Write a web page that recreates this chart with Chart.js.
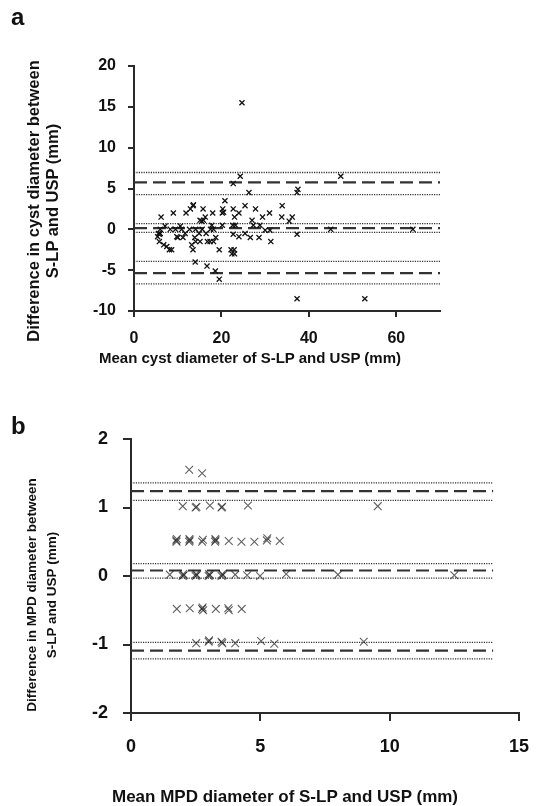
<!DOCTYPE html>
<html>
<head>
<meta charset="utf-8">
<script src="https://cdn.jsdelivr.net/npm/chart.js@4.4.0/dist/chart.umd.min.js"></script>
<style>
  body { margin: 0; background: #fff; font-family: "Liberation Sans", Arial, sans-serif; }
  #wrap { position: relative; width: 544px; height: 806px; }
  .panel { position: absolute; left: 0; width: 544px; }
  .lbl { position: absolute; font-weight: bold; color: #111; white-space: nowrap; }
  .rot { transform: translate(-50%, -50%) rotate(-90deg); text-align: center; }
  .ctr { transform: translate(-50%, -50%); }
</style>
</head>
<body>
<div id="wrap">
  <div class="panel" style="top:0;height:400px"><canvas id="chartA"></canvas></div>
  <div class="panel" style="top:400px;height:406px"><canvas id="chartB"></canvas></div>

  <div class="lbl" style="left:11px;top:3px;font-size:24px">a</div>
  <div class="lbl rot" style="left:43px;top:201px;font-size:16.5px;line-height:19px">Difference in cyst diameter between<br>S-LP and USP (mm)</div>
  <div class="lbl ctr" style="left:250px;top:357px;font-size:15px">Mean cyst diameter of S-LP and USP (mm)</div>

  <div class="lbl" style="left:11px;top:412px;font-size:24px">b</div>
  <div class="lbl rot" style="left:42px;top:595px;font-size:13.5px;line-height:20px">Difference in MPD diameter between<br>S-LP and USP (mm)</div>
  <div class="lbl ctr" style="left:285px;top:797px;font-size:17px">Mean MPD diameter of S-LP and USP (mm)</div>
</div>
<script>
// panel a: cyst diameter
const cystMean = [5.4, 5.6, 5.8, 6.0, 6.2, 6.8, 7.1, 8.1, 8.3, 8.6, 9.0, 9.5, 10.0, 10.6, 10.9, 11.2, 11.7, 11.9,
  12.7, 12.9, 13.2, 13.5, 13.5, 13.9, 14.0, 14.1, 14.1, 14.9, 15.1, 15.1, 15.6, 15.8, 15.9, 16.3, 16.5, 16.7,
  16.8, 17.5, 17.8, 18.0, 18.2, 18.2, 18.6, 18.7, 19.5, 19.5, 20.2, 20.2, 20.3, 20.8, 22.2, 22.4, 22.6, 22.7,
  22.7, 22.7, 22.9, 23.0, 23.0, 23.2, 24.0, 24.0, 24.3, 24.7, 25.4, 25.4, 26.3, 26.6, 27.0, 27.3, 27.8, 28.6,
  28.8, 29.4, 30.0, 31.0, 31.1, 31.3, 33.9, 33.8, 35.5, 36.2, 37.3, 37.5, 37.3, 37.3, 45.0, 47.3, 52.8, 63.8,
  5.8, 9.8, 15.5, 17.4, 13.6, 20.5, 7.5, 6.0];
const cystDiff = [-0.9, -0.5, -1.5, -0.5, 1.5, -1.9, 0.4, -2.5, 0, -2.5, 2.0, 0, -1.0, 0.4, 0, -1.0, -0.5, 2.0,
  0, 2.5, -1.9, 2.9, -2.5, -1.0, -4.0, -1.5, 0, -0.5, 1.1, -1.5, 0, 2.5, 1.1, 1.5, -0.5, -4.5,
  -1.5, 0, 0.5, 2.0, 0, -1.5, -5.1, -1.0, -2.5, -6.1, 2.0, 0.5, 2.5, 3.5, -2.5, -3.0, 0.5, 5.6,
  2.5, -0.6, -2.5, 1.5, -3.0, 0.5, 2.0, -0.9, 6.5, 15.5, 2.9, -0.5, 4.5, -1.0, 1.1, 0.5, 2.5, -1.0,
  0.5, 1.5, -0.1, 2.0, -0.1, -1.5, 2.9, 1.5, 1.0, 1.5, -0.6, 4.9, 4.5, -8.5, 0, 6.5, -8.5, 0,
  -0.6, -0.9, 1.0, -1.5, 3.0, 2.1, -2.1, 0];
const cystDashed = [5.74, 0.16, -5.37];
const cystDotted = [6.96, 4.26, 0.7, -0.37, -3.93, -6.67];
const cystXTicks = [0, 20, 40, 60];
const cystYTicks = [-10, -5, 0, 5, 10, 15, 20];

// panel b: MPD diameter
const mpdMean = [2.25, 2.75,
  2.0, 2.5, 2.53, 3.05, 3.5, 3.52, 4.52, 9.54,
  1.75, 1.76, 1.77, 2.25, 2.27, 2.26, 2.75, 2.78, 3.25, 3.27, 3.26, 3.78, 4.27, 4.77, 5.25, 5.27, 5.75,
  1.5, 2.0, 2.02, 2.04, 2.5, 2.52, 2.54, 3.0, 3.02, 3.04, 3.5, 3.53, 3.55, 4.03, 4.49, 4.99, 6.0, 8.0, 12.5,
  1.77, 2.27, 2.75, 2.77, 2.79, 3.28, 3.76, 3.78, 4.28,
  2.52, 3.0, 3.02, 3.5, 3.53, 4.03, 5.03, 5.54, 9.0];
const mpdDiff = [1.55, 1.5,
  1.02, 1.0, 1.01, 1.03, 1.0, 1.01, 1.03, 1.02,
  0.52, 0.5, 0.54, 0.5, 0.52, 0.54, 0.5, 0.53, 0.5, 0.52, 0.54, 0.51, 0.5, 0.5, 0.52, 0.55, 0.51,
  0.02, 0.0, 0.03, 0.01, 0.0, 0.03, 0.01, 0.0, 0.03, 0.01, 0.0, 0.03, 0.01, 0.02, 0.01, 0.0, 0.03, 0.02, 0.01,
  -0.48, -0.47, -0.48, -0.46, -0.5, -0.48, -0.47, -0.5, -0.48,
  -0.98, -0.96, -0.94, -0.96, -0.98, -0.98, -0.95, -0.99, -0.96];
const mpdDashed = [1.24, 0.08, -1.09];
const mpdDotted = [1.36, 1.105, 0.18, -0.03, -0.97, -1.21];
const mpdXTicks = [0, 5, 10, 15];
const mpdYTicks = [-2, -1, 0, 1, 2];

const family = '"Liberation Sans", Arial, sans-serif';
const axisColor = '#2a2a2a';

function hLines(values, xEnd, dash, width) {
  return values.map(v => ({
    type: 'line',
    data: [{ x: 0, y: v }, { x: xEnd, y: v }],
    borderColor: '#333',
    borderWidth: width,
    borderDash: dash,
    pointRadius: 0,
    fill: false
  }));
}

function makeChart(id, cfg) {
  const points = cfg.xs.map((x, i) => ({ x: x, y: cfg.ys[i] }));
  new Chart(document.getElementById(id), {
    type: 'scatter',
    data: {
      datasets: [
        {
          data: points,
          pointStyle: 'crossRot',
          pointRadius: cfg.markSize,
          borderColor: cfg.markColor,
          borderWidth: cfg.markWidth,
          backgroundColor: cfg.markColor
        }
      ].concat(hLines(cfg.dashed, cfg.lineEnd, [13, 6], 2.2))
       .concat(hLines(cfg.dotted, cfg.lineEnd, [1.2, 1.2], 1.3))
    },
    options: {
      responsive: true,
      maintainAspectRatio: false,
      animation: false,
      layout: { padding: cfg.padding },
      plugins: { legend: { display: false }, tooltip: { enabled: false } },
      scales: {
        x: {
          type: 'linear', min: cfg.xMin, max: cfg.xMax,
          afterBuildTicks: s => { s.ticks = cfg.xTicks.map(v => ({ value: v })); },
          afterFit: s => { s.height = cfg.xHeight; },
          grid: { drawOnChartArea: false, tickLength: cfg.tickLen, color: axisColor, lineWidth: 2 },
          border: { color: axisColor, width: 2 },
          ticks: { color: '#111', padding: cfg.xPad, maxRotation: 0, font: { size: cfg.tickSize, weight: 'bold', family: family } }
        },
        y: {
          type: 'linear', min: cfg.yMin, max: cfg.yMax,
          afterBuildTicks: s => { s.ticks = cfg.yTicks.map(v => ({ value: v })); },
          afterFit: s => { s.width = cfg.yWidth; },
          grid: { drawOnChartArea: false, tickLength: cfg.tickLen, color: axisColor, lineWidth: 2 },
          border: { color: axisColor, width: 2 },
          ticks: { color: '#111', padding: cfg.yPad, font: { size: cfg.tickSize, weight: 'bold', family: family } }
        }
      }
    }
  });
}

makeChart('chartA', {
  xs: cystMean, ys: cystDiff, dashed: cystDashed, dotted: cystDotted, lineEnd: 70,
  xMin: 0, xMax: 70, yMin: -10, yMax: 20, xTicks: cystXTicks, yTicks: cystYTicks,
  markSize: 3.6, markWidth: 1.3, markColor: '#111',
  padding: { top: 66, right: 104, left: 0, bottom: 0 },
  xHeight: 89, yWidth: 134, tickLen: 6, xPad: 12, yPad: 12, tickSize: 16
});

makeChart('chartB', {
  xs: mpdMean, ys: mpdDiff, dashed: mpdDashed, dotted: mpdDotted, lineEnd: 14,
  xMin: 0, xMax: 15, yMin: -2, yMax: 2, xTicks: mpdXTicks, yTicks: mpdYTicks,
  markSize: 5.5, markWidth: 1.1, markColor: 'rgba(30,30,30,0.7)',
  padding: { top: 39, right: 15, left: 0, bottom: 0 },
  xHeight: 93, yWidth: 131, tickLen: 8, xPad: 15, yPad: 15, tickSize: 18
});
</script>
</body>
</html>
